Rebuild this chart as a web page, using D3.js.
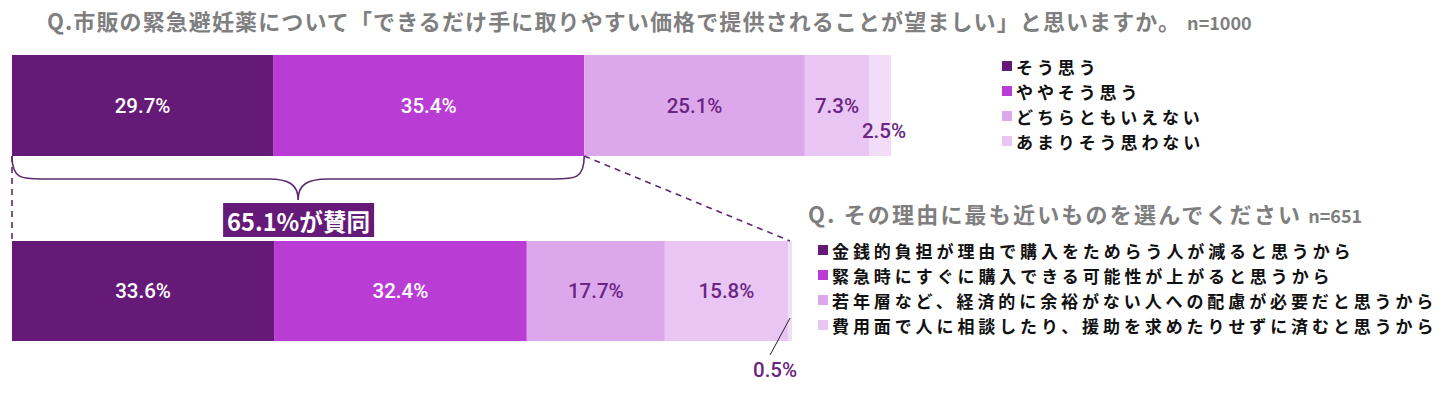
<!DOCTYPE html>
<html>
<head>
<meta charset="utf-8">
<script src="https://cdn.jsdelivr.net/npm/d3@7"></script>
<style>
  body { margin: 0; background: #fff; }
  svg { display: block; }
  text { font-family: "Noto Sans CJK JP", "Noto Sans", sans-serif; }
  .pct { font-family: Roboto, "Noto Sans", sans-serif; font-weight: 500; }
</style>
</head>
<body>
<script>
const width = 1452, height = 396;

// question 1
const q1Title = "Q.市販の緊急避妊薬について「できるだけ手に取りやすい価格で提供されることが望ましい」と思いますか。";
const q1N = "n=1000";
const q1Categories = ["そう思う", "ややそう思う", "どちらともいえない", "あまりそう思わない", "そう思わない"];
const q1Values = [29.7, 35.4, 25.1, 7.3, 2.5];

// question 2 (asked to the 65.1% who agreed)
const q2Title = "Q. その理由に最も近いものを選んでください";
const q2N = "n=651";
const q2Categories = [
  "金銭的負担が理由で購入をためらう人が減ると思うから",
  "緊急時にすぐに購入できる可能性が上がると思うから",
  "若年層など、経済的に余裕がない人への配慮が必要だと思うから",
  "費用面で人に相談したり、援助を求めたりせずに済むと思うから",
  "その他"
];
const q2Values = [33.6, 32.4, 17.7, 15.8, 0.5];

const agreeLabel = "65.1%が賛同";

const colors = ["#661a77", "#b93dd5", "#dca8eb", "#e9c5f3", "#f2dcf8"];
const labelColors = ["#ffffff", "#ffffff", "#6a2583", "#6a2583", "#6a2583"];

const svg = d3.select("body").append("svg")
  .attr("width", width)
  .attr("height", height);

function stack(values) {
  let acc = 0;
  return values.map((v, i) => { const d = {i: i, v: v, x0: acc, x1: acc + v}; acc += v; return d; });
}

const x1 = d3.scaleLinear().domain([0, 100]).range([12, 891]);
const x2 = d3.scaleLinear().domain([0, 100]).range([12, 792]);
const bar1 = {y: 55, h: 101};
const bar2 = {y: 241, h: 100};

function drawBar(data, x, bar, cls) {
  const g = svg.append("g").attr("class", cls);
  g.selectAll("rect")
    .data(data)
    .enter()
      .append("rect")
      .attr("x", d => x(d.x0))
      .attr("y", bar.y)
      .attr("width", d => x(d.x1) - x(d.x0))
      .attr("height", bar.h)
      .attr("fill", d => colors[d.i]);
  return g;
}

function pctLabel(g, d, px, py) {
  g.append("text")
    .attr("class", "pct")
    .attr("x", px)
    .attr("y", py)
    .attr("text-anchor", "middle")
    .attr("dominant-baseline", "central")
    .attr("font-size", 20.5)
    .attr("fill", labelColors[d.i])
    .text(d.v.toFixed(1) + "%");
}

// top bar
const s1 = stack(q1Values);
const g1 = drawBar(s1, x1, bar1, "bar1");
s1.forEach(d => {
  const cx = (x1(d.x0) + x1(d.x1)) / 2;
  if (d.v < 5) pctLabel(g1, d, cx + 4, bar1.y + bar1.h / 2 + 25);
  else pctLabel(g1, d, cx, bar1.y + bar1.h / 2);
});

// bottom bar
const s2 = stack(q2Values);
const g2 = drawBar(s2, x2, bar2, "bar2");
s2.forEach(d => {
  const cx = (x2(d.x0) + x2(d.x1)) / 2;
  if (d.v < 2) {
    g2.append("line")
      .attr("x1", cx).attr("y1", bar2.y + 77)
      .attr("x2", cx - 20).attr("y2", bar2.y + 114)
      .attr("stroke", "#222").attr("stroke-width", 1);
    pctLabel(g2, d, cx - 15, bar2.y + 129);
  } else {
    pctLabel(g2, d, cx, bar2.y + bar2.h / 2);
  }
});

// titles
function title(txt, n, x, y, len) {
  const t = svg.append("text")
    .attr("x", x).attr("y", y)
    .attr("fill", "#7f7f7f")
    .attr("font-weight", 700)
    .attr("font-size", 22);
  t.append("tspan").attr("textLength", len).attr("lengthAdjust", "spacing").text(txt);
  t.append("tspan").attr("dx", 6).attr("font-size", 18).text(n);
}
title(q1Title, q1N, 47, 30, 1133);
title(q2Title, q2N, 808, 223, 492);

// legends
function legend(names, x, ys) {
  const g = svg.append("g");
  const rows = g.selectAll("g")
    .data(names)
    .enter()
      .append("g")
      .attr("transform", (d, i) => `translate(${x},${ys[i]})`);
  rows.append("rect")
    .attr("x", 0).attr("y", -5)
    .attr("width", 10).attr("height", 10)
    .attr("fill", (d, i) => colors[i]);
  rows.append("text")
    .attr("x", 14)
    .attr("y", 0)
    .attr("dominant-baseline", "central")
    .attr("font-size", 17)
    .attr("font-weight", 700)
    .attr("letter-spacing", 3.9)
    .attr("fill", "#111")
    .text(d => d);
}
legend(q1Categories.slice(0, 4), 1002, [66, 91, 116, 141]);
legend(q2Categories.slice(0, 4), 818, [250, 275, 300, 325]);

// brace over the two "agree" segments
const agreeEnd = x1(q1Values[0] + q1Values[1]);
const bL = x1(0), bR = agreeEnd, bM = (bL + bR) / 2, bTop = 156, bMid = 179, bTip = 200;
const bracePath = d3.path();
bracePath.moveTo(bL, bTop);
bracePath.bezierCurveTo(bL, bMid, bL + 10, bMid, bL + 30, bMid);
bracePath.lineTo(bM - 30, bMid);
bracePath.bezierCurveTo(bM - 10, bMid, bM, bMid + 5, bM, bTip);
bracePath.bezierCurveTo(bM, bMid + 5, bM + 10, bMid, bM + 30, bMid);
bracePath.lineTo(bR - 30, bMid);
bracePath.bezierCurveTo(bR - 10, bMid, bR, bMid, bR, bTop);
svg.append("path")
  .attr("d", bracePath.toString())
  .attr("fill", "none")
  .attr("stroke", "#5d2a70")
  .attr("stroke-width", 1.6);

// dashed connectors
svg.append("line")
  .attr("x1", x1(0)).attr("y1", bar1.y + bar1.h)
  .attr("x2", x2(0)).attr("y2", bar2.y)
  .attr("stroke", "#5d2a70").attr("stroke-width", 1.6)
  .attr("stroke-dasharray", "6,5");
svg.append("line")
  .attr("x1", agreeEnd).attr("y1", bar1.y + bar1.h)
  .attr("x2", x2(100) - 2).attr("y2", bar2.y)
  .attr("stroke", "#5d2a70").attr("stroke-width", 1.6)
  .attr("stroke-dasharray", "6,5");

// agree label box
const boxG = svg.append("g");
boxG.append("rect")
  .attr("fill", "#661a77")
  .attr("x", bM - 75).attr("y", 203)
  .attr("width", 151).attr("height", 34);
boxG.append("text")
  .attr("x", bM - 71)
  .attr("y", 220)
  .attr("dominant-baseline", "central")
  .attr("font-size", 24)
  .attr("font-weight", 700)
  .attr("fill", "#fff")
  .attr("textLength", 143)
  .attr("lengthAdjust", "spacingAndGlyphs")
  .text(agreeLabel);
</script>
</body>
</html>
